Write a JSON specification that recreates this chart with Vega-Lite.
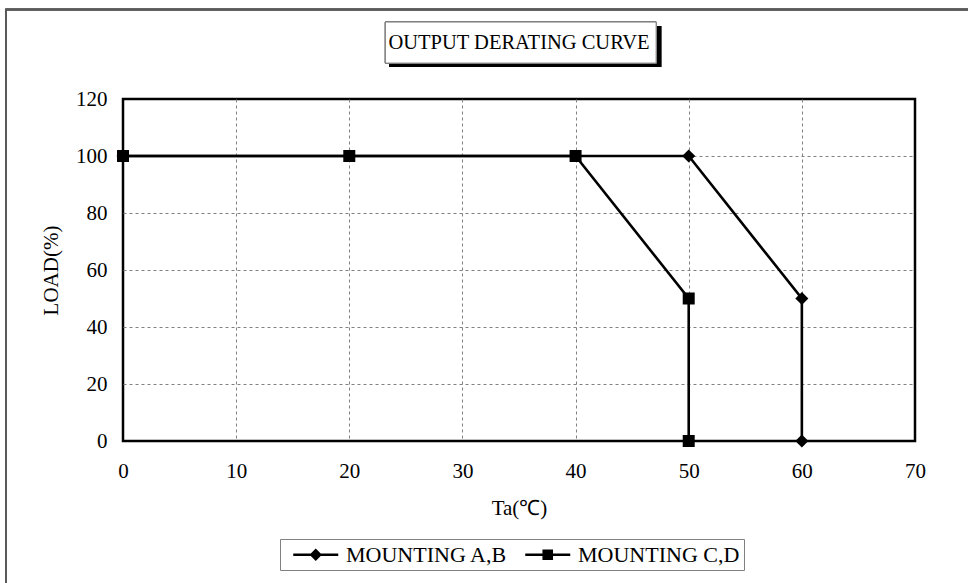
{
  "$schema": "https://vega.github.io/schema/vega-lite/v6.json",
  "width": 792,
  "height": 342,
  "autosize": "none",
  "padding": {"left": 123, "top": 99, "right": 53, "bottom": 142},
  "background": "white",
  "title": {
    "text": "OUTPUT DERATING CURVE",
    "font": "Liberation Serif",
    "fontSize": 20.5,
    "fontWeight": "normal",
    "color": "black",
    "anchor": "middle",
    "frame": "group",
    "offset": -45
  },
  "config": {
    "view": {"stroke": "black", "strokeWidth": 2.5},
    "axis": {
      "labelFont": "Liberation Serif",
      "labelFontSize": 21,
      "labelColor": "black",
      "titleFont": "Liberation Serif",
      "titleFontSize": 21,
      "titleFontWeight": "normal",
      "titleColor": "black",
      "domain": false,
      "ticks": false,
      "tickSize": 0,
      "grid": true,
      "gridColor": "#808080",
      "gridDash": [3, 3],
      "gridWidth": 1,
      "labelFlush": false,
      "labelOverlap": false
    }
  },
  "data": {
    "values": [
      {"series": "MOUNTING A,B", "step": 1, "ta": 0, "load": 100},
      {"series": "MOUNTING A,B", "step": 2, "ta": 50, "load": 100},
      {"series": "MOUNTING A,B", "step": 3, "ta": 60, "load": 50},
      {"series": "MOUNTING A,B", "step": 4, "ta": 60, "load": 0},
      {"series": "MOUNTING C,D", "step": 1, "ta": 0, "load": 100},
      {"series": "MOUNTING C,D", "step": 2, "ta": 20, "load": 100},
      {"series": "MOUNTING C,D", "step": 3, "ta": 40, "load": 100},
      {"series": "MOUNTING C,D", "step": 4, "ta": 50, "load": 50},
      {"series": "MOUNTING C,D", "step": 5, "ta": 50, "load": 0}
    ]
  },
  "layer": [
    {
      "mark": {"type": "rect", "color": "#5a5a5a", "filled": false, "strokeWidth": 1.5},
      "encoding": {
        "x": {"datum": -10.33, "type": "quantitative"},
        "x2": {"datum": 80},
        "y": {"datum": 151.4, "type": "quantitative"},
        "y2": {"datum": -60}
      }
    },
    {
      "mark": {"type": "rect", "color": "black"},
      "encoding": {
        "x": {"datum": 23.53, "type": "quantitative"},
        "x2": {"datum": 47.56},
        "y": {"datum": 145.6, "type": "quantitative"},
        "y2": {"datum": 131.2}
      }
    },
    {
      "mark": {"type": "rect", "fill": "white", "stroke": "#808080", "strokeWidth": 1},
      "encoding": {
        "x": {"datum": 23.19, "type": "quantitative"},
        "x2": {"datum": 47.12},
        "y": {"datum": 147.0, "type": "quantitative"},
        "y2": {"datum": 132.6}
      }
    },
    {
      "mark": {"type": "line", "color": "black", "strokeWidth": 2.6},
      "encoding": {
        "x": {
          "field": "ta",
          "type": "quantitative",
          "title": "Ta(℃)",
          "scale": {"domain": [0, 70], "nice": false, "zero": false},
          "axis": {
            "values": [0, 10, 20, 30, 40, 50, 60, 70],
            "labelPadding": 19,
            "titlePadding": 16,
            "gridOpacity": {"condition": {"test": "datum.value == 0 || datum.value == 70", "value": 0}, "value": 1}
          }
        },
        "y": {
          "field": "load",
          "type": "quantitative",
          "title": "LOAD(%)",
          "scale": {"domain": [0, 120], "nice": false, "zero": false},
          "axis": {
            "values": [0, 20, 40, 60, 80, 100, 120],
            "labelPadding": 16,
            "titlePadding": 14,
            "gridOpacity": {"condition": {"test": "datum.value == 0 || datum.value == 120", "value": 0}, "value": 1}
          }
        },
        "detail": {"field": "series"},
        "order": {"field": "step"}
      }
    },
    {
      "transform": [{"filter": "datum.series === 'MOUNTING A,B'"}],
      "mark": {"type": "point", "shape": "diamond", "filled": true, "color": "black", "opacity": 1, "size": 170},
      "encoding": {
        "x": {"field": "ta", "type": "quantitative"},
        "y": {"field": "load", "type": "quantitative"}
      }
    },
    {
      "transform": [{"filter": "datum.series === 'MOUNTING C,D'"}],
      "mark": {"type": "point", "shape": "square", "filled": true, "color": "black", "opacity": 1, "size": 144},
      "encoding": {
        "x": {"field": "ta", "type": "quantitative"},
        "y": {"field": "load", "type": "quantitative"}
      }
    },
    {
      "mark": {"type": "point", "filled": true, "color": "black", "opacity": 0, "size": 506},
      "encoding": {
        "x": {"field": "ta", "type": "quantitative"},
        "y": {"field": "load", "type": "quantitative"},
        "shape": {
          "field": "series",
          "type": "nominal",
          "scale": {
            "domain": ["MOUNTING A,B", "MOUNTING C,D"],
            "range": [
              "M-0.2,-0.11H3.8V0.11H-0.2ZM1.8,-0.55L2.35,0L1.8,0.55L1.25,0Z",
              "M-0.2,-0.11H3.8V0.11H-0.2ZM1.33,-0.47H2.27V0.47H1.33Z"
            ]
          },
          "legend": {
            "title": null,
            "orient": "none",
            "direction": "horizontal",
            "legendX": 157,
            "legendY": 440,
            "strokeColor": "#808080",
            "padding": 4,
            "symbolSize": 506,
            "symbolOpacity": 1,
            "symbolFillColor": "black",
            "symbolStrokeColor": "black",
            "symbolStrokeWidth": 0,
            "labelFont": "Liberation Serif",
            "labelFontSize": 22,
            "labelColor": "black",
            "labelOffset": 39,
            "columnPadding": 8,
            "labelLimit": 300,
            "encode": {
              "symbols": {
                "update": {
                  "fill": {"value": "black"},
                  "opacity": {"value": 1},
                  "fillOpacity": {"value": 1}
                }
              }
            }
          }
        }
      }
    }
  ]
}
